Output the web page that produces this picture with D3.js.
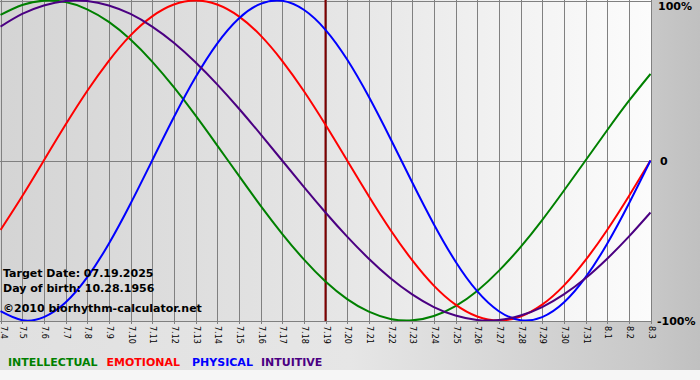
<!DOCTYPE html>
<html>
<head>
<meta charset="utf-8">
<script src="https://cdn.jsdelivr.net/npm/d3@7"></script>
<style>
  html, body { margin: 0; padding: 0; background: #ffffff; }
  svg { display: block; }
  text { font-family: "DejaVu Sans", Verdana, sans-serif; }
</style>
</head>
<body>
<svg id="chart" width="700" height="380"></svg>
<script>
// ---- data (values in %) ----
const days = ["7.4","7.5","7.6","7.7","7.8","7.9","7.10","7.11","7.12","7.13","7.14","7.15","7.16","7.17","7.18","7.19",
  "7.20","7.21","7.22","7.23","7.24","7.25","7.26","7.27","7.28","7.29","7.30","7.31","8.1","8.2","8.3"];
const targetDay = "7.19";
const intellectual = [91.0, 97.2, 99.9, 99.0, 94.5, 86.6, 75.6, 61.8, 45.8, 28.2, 9.5, -9.5, -28.2, -45.8, -61.8, -75.6,
  -86.6, -94.5, -99.0, -99.9, -97.2, -91.0, -81.5, -69.0, -54.1, -37.2, -18.9, 0.0, 18.9, 37.2, 54.1];
const emotional = [-43.4, -22.3, 0.0, 22.3, 43.4, 62.3, 78.2, 90.1, 97.5, 100.0, 97.5, 90.1, 78.2, 62.3, 43.4, 22.3,
  0.0, -22.3, -43.4, -62.3, -78.2, -90.1, -97.5, -100.0, -97.5, -90.1, -78.2, -62.3, -43.4, -22.3, 0.0];
const physical = [-94.2, -99.8, -97.9, -88.8, -73.1, -52.0, -27.0, 0.0, 27.0, 52.0, 73.1, 88.8, 97.9, 99.8, 94.2, 81.7,
  63.1, 39.8, 13.6, -13.6, -39.8, -63.1, -81.7, -94.2, -99.8, -97.9, -88.8, -73.1, -52.0, -27.0, 0.0];
const intuitive = [83.7, 91.6, 96.9, 99.7, 99.7, 96.9, 91.6, 83.7, 73.6, 61.4, 47.6, 32.5, 16.5, 0.0, -16.5, -32.5,
  -47.6, -61.4, -73.6, -83.7, -91.6, -96.9, -99.7, -99.7, -96.9, -91.6, -83.7, -73.6, -61.4, -47.6, -32.5];
const seriesNames = ["INTELLECTUAL", "EMOTIONAL", "PHYSICAL", "INTUITIVE"];
const seriesColors = ["#008000", "#ff0000", "#0000ff", "#4b0082"];
const yTicks = [100, 0, -100];
const yTickLabels = ["100%", "0", "-100%"];
const infoLines = ["Target Date: 07.19.2025", "Day of birth: 10.28.1956"];
const copyright = "\u00A92010 biorhythm-calculator.net";

const series = [intellectual, emotional, physical, intuitive];

// ---- layout ----
const W = 700, H = 380;
const plot = { left: 0.5, right: 650.5, top: 1, bottom: 321 };

const svg = d3.select("#chart");
const defs = svg.append("defs");

const outerGrad = defs.append("linearGradient").attr("id", "outerGrad")
  .attr("x1", "0").attr("x2", "1").attr("y1", "0").attr("y2", "0");
outerGrad.append("stop").attr("offset", "0").attr("stop-color", "#e0e0e0");
outerGrad.append("stop").attr("offset", "0.5").attr("stop-color", "#e6e6e6");
outerGrad.append("stop").attr("offset", "0.93").attr("stop-color", "#c8c8c8");
outerGrad.append("stop").attr("offset", "1").attr("stop-color", "#c0c0c0");

const plotGrad = defs.append("linearGradient").attr("id", "plotGrad")
  .attr("x1", "0").attr("x2", "1").attr("y1", "0").attr("y2", "0");
plotGrad.append("stop").attr("offset", "0").attr("stop-color", "#d4d4d4");
plotGrad.append("stop").attr("offset", "0.5").attr("stop-color", "#e5e5e5");
plotGrad.append("stop").attr("offset", "1").attr("stop-color", "#fcfcfc");

svg.append("rect").attr("x", 0).attr("y", 0).attr("width", W).attr("height", 370).attr("fill", "url(#outerGrad)");
svg.append("rect").attr("x", 0).attr("y", 370).attr("width", W).attr("height", 10).attr("fill", "#f6f6f6");
svg.append("rect").attr("x", 0).attr("y", 0).attr("width", 651).attr("height", 321).attr("fill", "url(#plotGrad)");

// ---- scales ----
const x = d3.scalePoint().domain(days).range([plot.left, plot.right]);
const y = d3.scaleLinear().domain([-100, 100]).range([plot.bottom - 0.5, 0.5]);

// vertical grid with tick marks below
const gx = svg.append("g").attr("class", "grid-x");
gx.selectAll("line").data(days).join("line")
  .attr("x1", d => Math.round(x(d)) + 0.5).attr("x2", d => Math.round(x(d)) + 0.5)
  .attr("y1", 0).attr("y2", 324)
  .attr("stroke", "#808080").attr("stroke-width", 1);

// horizontal lines: top, zero, bottom
svg.append("g").selectAll("line").data(yTicks).join("line")
  .attr("x1", 0).attr("x2", 651)
  .attr("y1", d => Math.round(y(d)) + 0.5).attr("y2", d => Math.round(y(d)) + 0.5)
  .attr("stroke", "#808080").attr("stroke-width", 1);

// x tick labels, rotated
svg.append("g").selectAll("text").data(days).join("text")
  .attr("transform", d => `translate(${Math.max(4, Math.round(x(d)) + 0.5)},326) rotate(90)`)
  .attr("dy", "0.35em")
  .attr("font-size", "8px")
  .attr("fill", "#000")
  .text(d => d);

// y labels on right
svg.append("g").selectAll("text").data(yTicks).join("text")
  .attr("x", (d, i) => i === 1 ? 660 : (i === 0 ? 658 : 657))
  .attr("y", d => y(d) + 4.5)
  .attr("dy", (d, i) => i === 0 ? 5 : 0)
  .attr("font-size", "11px").attr("font-weight", "bold").attr("fill", "#000")
  .text((d, i) => yTickLabels[i]);

// target day marker
svg.append("line")
  .attr("x1", x(targetDay)).attr("x2", x(targetDay))
  .attr("y1", 0).attr("y2", 321)
  .attr("stroke", "#800000").attr("stroke-width", 2);

// curves
svg.append("clipPath").attr("id", "clip").append("rect")
  .attr("x", 0).attr("y", 0).attr("width", 651).attr("height", 321);
const line = d3.line()
  .x((d, i) => x(days[i]))
  .y(d => y(d))
  .curve(d3.curveNatural);
svg.append("g").attr("clip-path", "url(#clip)")
  .selectAll("path").data(series).join("path")
  .attr("d", d => line(d))
  .attr("fill", "none")
  .attr("stroke", (d, i) => seriesColors[i])
  .attr("stroke-width", 2);

// info text
svg.append("g").selectAll("text").data(infoLines).join("text")
  .attr("x", 3).attr("y", (d, i) => 277 + i * 14.5)
  .attr("font-size", "11px").attr("font-weight", "bold").attr("fill", "#000")
  .text(d => d);
svg.append("text").attr("x", 3).attr("y", 311.5)
  .attr("font-size", "11px").attr("font-weight", "bold").attr("fill", "#000")
  .text(copyright);

// legend
const legend = svg.append("g");
let lx = 8;
const gaps = [9, 12, 8, 0];
seriesNames.forEach((name, i) => {
  const t = legend.append("text")
    .attr("x", lx).attr("y", 365.5)
    .attr("font-size", "11px").attr("font-weight", "bold")
    .attr("fill", seriesColors[i])
    .text(name);
  lx += t.node().getComputedTextLength() + gaps[i];
});
</script>
</body>
</html>
